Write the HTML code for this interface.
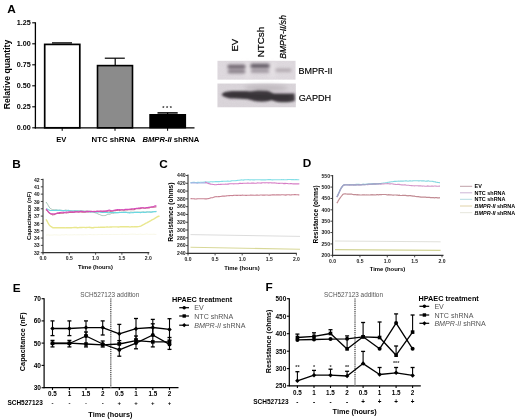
<!DOCTYPE html>
<html><head><meta charset="utf-8"><style>
html,body{margin:0;padding:0;background:#fff;}
svg{display:block;will-change:transform;}
text{font-family:"Liberation Sans", sans-serif;}
</style></head><body>
<svg width="520" height="420" viewBox="0 0 520 420">
<rect width="520" height="420" fill="#fff"/>
<text x="7.2" y="13.4" font-size="11.8" font-weight="bold" text-anchor="start" fill="#000">A</text>
<line x1="35.4" y1="22.3" x2="35.4" y2="128.5" stroke="#000" stroke-width="1.3"/>
<line x1="34.8" y1="127.8" x2="194.5" y2="127.8" stroke="#000" stroke-width="1.3"/>
<line x1="32.199999999999996" y1="127.8" x2="35.4" y2="127.8" stroke="#000" stroke-width="1.1"/>
<text x="30.7" y="130.4" font-size="7.2" font-weight="bold" text-anchor="end" fill="#000">0.00</text>
<line x1="32.199999999999996" y1="106.8" x2="35.4" y2="106.8" stroke="#000" stroke-width="1.1"/>
<text x="30.7" y="109.39999999999999" font-size="7.2" font-weight="bold" text-anchor="end" fill="#000">0.25</text>
<line x1="32.199999999999996" y1="85.8" x2="35.4" y2="85.8" stroke="#000" stroke-width="1.1"/>
<text x="30.7" y="88.39999999999999" font-size="7.2" font-weight="bold" text-anchor="end" fill="#000">0.50</text>
<line x1="32.199999999999996" y1="64.8" x2="35.4" y2="64.8" stroke="#000" stroke-width="1.1"/>
<text x="30.7" y="67.39999999999999" font-size="7.2" font-weight="bold" text-anchor="end" fill="#000">0.75</text>
<line x1="32.199999999999996" y1="43.8" x2="35.4" y2="43.8" stroke="#000" stroke-width="1.1"/>
<text x="30.7" y="46.4" font-size="7.2" font-weight="bold" text-anchor="end" fill="#000">1.00</text>
<line x1="32.199999999999996" y1="22.8" x2="35.4" y2="22.8" stroke="#000" stroke-width="1.1"/>
<text x="30.7" y="25.400000000000002" font-size="7.2" font-weight="bold" text-anchor="end" fill="#000">1.25</text>
<text x="10.3" y="74.5" font-size="8.7" font-weight="bold" text-anchor="middle" fill="#000" transform="rotate(-90 10.3 74.5)">Relative quantity</text>
<rect x="44.7" y="44.4" width="35.1" height="83.4" fill="#fff" stroke="#000" stroke-width="1.7"/>
<line x1="52" y1="42.9" x2="72" y2="42.9" stroke="#000" stroke-width="1.3"/>
<rect x="97.5" y="65.6" width="35.0" height="62.2" fill="#8b8b8b" stroke="#000" stroke-width="1.6"/>
<line x1="115.2" y1="65" x2="115.2" y2="58.2" stroke="#000" stroke-width="1.2"/>
<line x1="104.8" y1="58.2" x2="124.8" y2="58.2" stroke="#000" stroke-width="1.2"/>
<rect x="149.9" y="114.6" width="35.6" height="13.2" fill="#000" stroke="#000" stroke-width="1.2"/>
<line x1="157.5" y1="112.9" x2="177.7" y2="112.9" stroke="#000" stroke-width="1.5"/>
<line x1="167.6" y1="112.8" x2="167.6" y2="114.6" stroke="#000" stroke-width="1.2"/>
<text x="167.0" y="110.0" font-size="5.6" font-weight="bold" text-anchor="middle" fill="#222">* * *</text>
<line x1="62.2" y1="127.8" x2="62.2" y2="130.8" stroke="#000" stroke-width="1"/>
<line x1="115.0" y1="127.8" x2="115.0" y2="130.8" stroke="#000" stroke-width="1"/>
<line x1="167.6" y1="127.8" x2="167.6" y2="130.8" stroke="#000" stroke-width="1"/>
<text x="61.2" y="141.8" font-size="7.6" font-weight="bold" text-anchor="middle" fill="#000">EV</text>
<text x="113.6" y="141.7" font-size="7.8" font-weight="bold" text-anchor="middle" fill="#000">NTC shRNA</text>
<text x="170.9" y="141.5" font-size="7.65" font-weight="bold" text-anchor="middle"><tspan font-style="italic">BMPR-II</tspan> shRNA</text>
<defs>
<filter id="bl1" x="-30%" y="-100%" width="160%" height="300%"><feGaussianBlur stdDeviation="1.5"/></filter>
<filter id="bl2" x="-20%" y="-60%" width="140%" height="220%"><feGaussianBlur stdDeviation="1.25"/></filter>
<filter id="bl3" x="-10%" y="-10%" width="120%" height="120%"><feGaussianBlur stdDeviation="0.45"/></filter>
<filter id="bl4" x="-50%" y="-100%" width="200%" height="300%"><feGaussianBlur stdDeviation="2.2"/></filter>
<filter id="noise" x="0" y="0" width="100%" height="100%"><feTurbulence type="fractalNoise" baseFrequency="0.9" numOctaves="2" seed="4" result="n"/><feColorMatrix in="n" type="matrix" values="0 0 0 0 0.45  0 0 0 0 0.42  0 0 0 0 0.45  0 0 0 0.16 0"/></filter>
<filter id="soft" x="-5%" y="-5%" width="110%" height="110%"><feGaussianBlur stdDeviation="0.35"/></filter>
</defs>
<rect x="217.4" y="60.8" width="78.2" height="18.8" fill="#e1dce1" filter="url(#bl3)"/>
<rect x="217.4" y="83.5" width="78.4" height="23.8" fill="#dcd7dc" filter="url(#bl3)"/>
<rect x="218" y="61.3" width="77" height="18" filter="url(#noise)"/>
<rect x="218" y="84" width="77.2" height="22.8" filter="url(#noise)"/>
<g filter="url(#bl4)" opacity="0.6"><rect x="245" y="62" width="5" height="16" fill="#ece8eb"/><rect x="270" y="62" width="5" height="16" fill="#ece8eb"/></g>
<g filter="url(#bl1)">
<rect x="227.5" y="64.8" width="18" height="3.6" rx="1.5" fill="#6a606b"/>
<rect x="227.8" y="69.8" width="17.5" height="3.4" rx="1.5" fill="#857b85"/>
<rect x="250.5" y="63.7" width="19" height="4.4" rx="1.5" fill="#645b66"/>
<rect x="251" y="69.6" width="18" height="3.0" rx="1.2" fill="#948b94"/>
<rect x="275.5" y="68.4" width="16" height="3.6" rx="1.5" fill="#b2aab0"/>
</g>
<ellipse cx="266" cy="88" rx="22" ry="3.2" fill="#bfb9be" filter="url(#bl4)"/>
<path d="M221.5,94.6 C223,92.4 226,91.4 232,91.0 L247,91.0 C251,91.6 253,90.6 258,90.4 L267,90.8 C270,91.2 271,92.6 274,93.4 L294.6,93.6 L294.8,100.8 C290,102.4 284,102.6 278,102.0 C275,101.6 273,100.4 271.5,100.0 C269,101.4 264,102.0 258,101.6 C254,101.2 251,100.0 248,99.2 C243,98.6 236,98.6 230,98.4 C226,98.0 223,96.8 221.5,94.6 Z" fill="#403a41" filter="url(#bl2)"/>
<path d="M224,94.6 C230,93.0 245,93.0 250,94.0 L290,95.5 L290,99 C282,100 262,99.6 250,97.6 C240,96.8 230,96.4 224,94.6 Z" fill="#1f1b1e" filter="url(#bl2)" opacity="0.25"/>
<text x="298.5" y="74.0" font-size="9" text-anchor="start" fill="#000" stroke="#000" stroke-width="0.15">BMPR-II</text>
<text x="298.8" y="101.1" font-size="9.1" text-anchor="start" fill="#000" stroke="#000" stroke-width="0.15">GAPDH</text>
<text x="238.5" y="51.6" font-size="9.6" text-anchor="start" fill="#000" transform="rotate(-90 238.5 51.6)" stroke="#000" stroke-width="0.2">EV</text>
<text x="264.3" y="57.3" font-size="9.8" text-anchor="start" fill="#000" transform="rotate(-90 264.3 57.3)" stroke="#000" stroke-width="0.2">NTCsh</text>
<text x="286.0" y="58.8" font-size="8.55" font-style="italic" text-anchor="start" fill="#000" transform="rotate(-90 286.0 58.8)" stroke="#000" stroke-width="0.2">BMPR-II/sh</text>
<text x="12.2" y="168.4" font-size="11.8" font-weight="bold" text-anchor="start" fill="#000">B</text>
<line x1="43.0" y1="178.8" x2="43.0" y2="253.2" stroke="#333" stroke-width="1.1"/>
<line x1="42.5" y1="252.7" x2="149.3" y2="252.7" stroke="#333" stroke-width="1.3"/>
<line x1="40.8" y1="252.7" x2="43.0" y2="252.7" stroke="#333" stroke-width="0.9"/>
<text x="39.6" y="254.79999999999998" font-size="5.1" font-weight="bold" text-anchor="end" fill="#222">32</text>
<line x1="40.8" y1="245.38" x2="43.0" y2="245.38" stroke="#333" stroke-width="0.9"/>
<text x="39.6" y="247.48" font-size="5.1" font-weight="bold" text-anchor="end" fill="#222">33</text>
<line x1="40.8" y1="238.06" x2="43.0" y2="238.06" stroke="#333" stroke-width="0.9"/>
<text x="39.6" y="240.16" font-size="5.1" font-weight="bold" text-anchor="end" fill="#222">34</text>
<line x1="40.8" y1="230.73999999999998" x2="43.0" y2="230.73999999999998" stroke="#333" stroke-width="0.9"/>
<text x="39.6" y="232.83999999999997" font-size="5.1" font-weight="bold" text-anchor="end" fill="#222">35</text>
<line x1="40.8" y1="223.42" x2="43.0" y2="223.42" stroke="#333" stroke-width="0.9"/>
<text x="39.6" y="225.51999999999998" font-size="5.1" font-weight="bold" text-anchor="end" fill="#222">36</text>
<line x1="40.8" y1="216.1" x2="43.0" y2="216.1" stroke="#333" stroke-width="0.9"/>
<text x="39.6" y="218.2" font-size="5.1" font-weight="bold" text-anchor="end" fill="#222">37</text>
<line x1="40.8" y1="208.77999999999997" x2="43.0" y2="208.77999999999997" stroke="#333" stroke-width="0.9"/>
<text x="39.6" y="210.87999999999997" font-size="5.1" font-weight="bold" text-anchor="end" fill="#222">38</text>
<line x1="40.8" y1="201.45999999999998" x2="43.0" y2="201.45999999999998" stroke="#333" stroke-width="0.9"/>
<text x="39.6" y="203.55999999999997" font-size="5.1" font-weight="bold" text-anchor="end" fill="#222">39</text>
<line x1="40.8" y1="194.14" x2="43.0" y2="194.14" stroke="#333" stroke-width="0.9"/>
<text x="39.6" y="196.23999999999998" font-size="5.1" font-weight="bold" text-anchor="end" fill="#222">40</text>
<line x1="40.8" y1="186.82" x2="43.0" y2="186.82" stroke="#333" stroke-width="0.9"/>
<text x="39.6" y="188.92" font-size="5.1" font-weight="bold" text-anchor="end" fill="#222">41</text>
<line x1="40.8" y1="179.5" x2="43.0" y2="179.5" stroke="#333" stroke-width="0.9"/>
<text x="39.6" y="181.6" font-size="5.1" font-weight="bold" text-anchor="end" fill="#222">42</text>
<line x1="43.0" y1="252.7" x2="43.0" y2="254.7" stroke="#333" stroke-width="0.9"/>
<text x="43.0" y="260.3" font-size="5.0" font-weight="bold" text-anchor="middle" fill="#222">0.0</text>
<line x1="69.3" y1="252.7" x2="69.3" y2="254.7" stroke="#333" stroke-width="0.9"/>
<text x="69.3" y="260.3" font-size="5.0" font-weight="bold" text-anchor="middle" fill="#222">0.5</text>
<line x1="95.6" y1="252.7" x2="95.6" y2="254.7" stroke="#333" stroke-width="0.9"/>
<text x="95.6" y="260.3" font-size="5.0" font-weight="bold" text-anchor="middle" fill="#222">1.0</text>
<line x1="121.9" y1="252.7" x2="121.9" y2="254.7" stroke="#333" stroke-width="0.9"/>
<text x="121.9" y="260.3" font-size="5.0" font-weight="bold" text-anchor="middle" fill="#222">1.5</text>
<line x1="148.2" y1="252.7" x2="148.2" y2="254.7" stroke="#333" stroke-width="0.9"/>
<text x="148.2" y="260.3" font-size="5.0" font-weight="bold" text-anchor="middle" fill="#222">2.0</text>
<text x="95.5" y="268.5" font-size="5.8" font-weight="bold" text-anchor="middle" fill="#000">Time (hours)</text>
<text x="31.3" y="215.8" font-size="6.0" font-weight="bold" text-anchor="middle" fill="#000" transform="rotate(-90 31.3 215.8)">Capacitance (nF)</text>
<g filter="url(#soft)">
<polyline points="46.0,202.0 46.8,203.1 47.6,204.3 48.4,205.8 49.2,207.1 50.0,208.2 50.8,208.8 51.6,209.2 52.4,209.6 53.2,209.7 54.0,209.8 54.8,209.8 55.6,209.8 56.4,209.8 57.2,210.0 58.0,210.1 58.8,210.2 59.6,210.1 60.4,210.2 61.2,210.2 62.0,210.3 62.8,210.5 63.6,210.6 64.4,210.4 65.2,210.1 66.0,210.0 66.8,210.3 67.6,210.4 68.4,210.5 69.2,210.7 70.0,210.6 70.8,210.6 71.6,210.6 72.4,210.8 73.2,210.9 74.0,210.7 74.8,210.5 75.6,210.5 76.4,210.6 77.2,210.6 78.0,210.6 78.8,210.6 79.6,210.6 80.4,210.7 81.2,210.7 82.0,210.8 82.8,210.8 83.6,210.9 84.4,211.0 85.2,211.0 86.0,210.9 86.8,210.9 87.6,210.9 88.4,211.1 89.2,211.0 90.0,211.2 90.8,211.3 91.6,211.5 92.4,211.7 93.2,212.0 94.0,212.4 94.8,212.7 95.6,212.9 96.4,213.1 97.2,213.5 98.0,213.9 98.8,214.3 99.6,214.5 100.4,214.9 101.2,215.2 102.0,215.6 102.8,215.6 103.6,215.6 104.4,215.6 105.2,215.5 106.0,215.2 106.8,214.8 107.6,214.5 108.4,214.3 109.2,214.3 110.0,214.1 110.8,213.8 111.6,213.4 112.4,213.3 113.2,213.4 114.0,213.2 114.8,213.0 115.6,212.8 116.4,212.7 117.2,212.7 118.0,212.5 118.8,212.4 119.6,212.3 120.4,212.3 121.2,212.1 122.0,212.2 122.8,212.1 123.6,212.1 124.4,212.2 125.2,212.1 126.0,212.3 126.8,212.2 127.6,212.3 128.4,212.3 129.2,212.4 130.0,212.2 130.8,212.0 131.6,212.1 132.4,212.2 133.2,212.2 134.0,212.1 134.8,212.1 135.6,212.2 136.4,212.2 137.2,212.2 138.0,212.1 138.8,212.1 139.6,212.0 140.4,212.1 141.2,212.2 142.0,212.1 142.8,211.9 143.6,211.8 144.4,212.1 145.2,212.2 146.0,212.1 146.8,211.9 147.6,211.9 148.4,212.0 149.2,211.9 150.0,212.0 150.8,211.9 151.6,211.9 152.4,211.8 153.2,211.8 154.0,211.7 154.8,211.5 155.6,211.6 156.4,211.6" fill="none" stroke="#a4c2b4" stroke-width="1.0" stroke-linejoin="round"/>
<polyline points="46.0,208.8 46.8,209.0 47.6,209.1 48.4,209.7 49.2,210.1 50.0,210.5 50.8,210.5 51.6,210.5 52.4,210.5 53.2,210.5 54.0,210.5 54.8,210.5 55.6,210.3 56.4,210.4 57.2,210.4 58.0,210.5 58.8,210.4 59.6,210.4 60.4,210.3 61.2,210.5 62.0,210.5 62.8,210.6 63.6,210.6 64.4,210.6 65.2,210.6 66.0,210.8 66.8,210.8 67.6,210.6 68.4,210.3 69.2,210.6 70.0,210.8 70.8,211.0 71.6,211.0 72.4,211.1 73.2,211.0 74.0,211.0 74.8,211.1 75.6,211.0 76.4,211.0 77.2,211.0 78.0,211.3 78.8,211.3 79.6,211.2 80.4,211.0 81.2,211.2 82.0,211.3 82.8,211.5 83.6,211.3 84.4,211.5 85.2,211.5 86.0,211.6 86.8,211.5 87.6,211.6 88.4,211.8 89.2,211.9 90.0,212.0 90.8,212.1 91.6,212.0 92.4,211.8 93.2,211.9 94.0,211.9 94.8,212.0 95.6,212.0 96.4,212.1 97.2,212.1 98.0,212.0 98.8,211.8 99.6,212.0 100.4,212.2 101.2,212.5 102.0,212.5 102.8,212.4 103.6,212.4 104.4,212.4 105.2,212.4 106.0,212.3 106.8,212.5 107.6,212.6 108.4,212.7 109.2,212.6 110.0,212.5 110.8,212.5 111.6,212.5 112.4,212.5 113.2,212.4 114.0,212.4 114.8,212.5 115.6,212.6 116.4,212.6 117.2,212.7 118.0,212.5 118.8,212.6 119.6,212.4 120.4,212.5 121.2,212.5 122.0,212.5 122.8,212.5 123.6,212.4 124.4,212.4 125.2,212.3 126.0,212.4 126.8,212.5 127.6,212.7 128.4,212.8 129.2,212.9 130.0,212.9 130.8,212.8 131.6,212.7 132.4,212.6 133.2,212.7 134.0,212.4 134.8,212.5 135.6,212.3 136.4,212.4 137.2,212.4 138.0,212.4 138.8,212.5 139.6,212.5 140.4,212.6 141.2,212.4 142.0,212.3 142.8,212.3 143.6,212.4 144.4,212.4 145.2,212.4 146.0,212.2 146.8,212.1 147.6,212.0 148.4,212.0 149.2,212.0 150.0,212.1 150.8,212.2 151.6,212.1 152.4,211.9 153.2,211.7 154.0,211.8 154.8,211.6 155.6,211.6 156.4,211.4" fill="none" stroke="#6ad8e2" stroke-width="1.1" stroke-linejoin="round"/>
<polyline points="46.0,209.7 46.8,210.2 47.6,210.8 48.4,212.1 49.2,213.0 50.0,213.5 50.8,214.0 51.6,214.2 52.4,214.9 53.2,214.8 54.0,214.7 54.8,214.2 55.6,213.9 56.4,213.6 57.2,213.4 58.0,213.4 58.8,213.3 59.6,213.4 60.4,213.2 61.2,213.1 62.0,213.1 62.8,213.2 63.6,213.1 64.4,212.8 65.2,212.8 66.0,213.0 66.8,212.9 67.6,212.8 68.4,212.7 69.2,212.5 70.0,212.5 70.8,212.4 71.6,212.5 72.4,212.5 73.2,212.5 74.0,212.0 74.8,212.1 75.6,211.9 76.4,212.0 77.2,211.9 78.0,212.0 78.8,212.2 79.6,212.0 80.4,211.9 81.2,211.9 82.0,212.2 82.8,212.2 83.6,212.2 84.4,212.2 85.2,212.1 86.0,211.9 86.8,211.8 87.6,211.9 88.4,212.0 89.2,211.8 90.0,211.7 90.8,211.4 91.6,211.6 92.4,211.6 93.2,211.7 94.0,211.6 94.8,211.4 95.6,211.6 96.4,211.4 97.2,211.4 98.0,211.3 98.8,211.7 99.6,211.5 100.4,211.3 101.2,211.2 102.0,211.4 102.8,211.6 103.6,211.4 104.4,211.5 105.2,211.1 106.0,211.4 106.8,211.3 107.6,211.3 108.4,210.9 109.2,211.0 110.0,211.1 110.8,211.4 111.6,211.2 112.4,211.1 113.2,210.9 114.0,210.6 114.8,210.4 115.6,210.6 116.4,210.5 117.2,210.4 118.0,210.2 118.8,210.3 119.6,210.4 120.4,210.2 121.2,210.0 122.0,209.8 122.8,210.1 123.6,210.3 124.4,210.3 125.2,210.0 126.0,209.9 126.8,209.8 127.6,209.9 128.4,209.7 129.2,209.7 130.0,209.5 130.8,209.6 131.6,209.5 132.4,209.7 133.2,209.7 134.0,209.8 134.8,209.2 135.6,208.9 136.4,208.5 137.2,208.8 138.0,208.4 138.8,208.6 139.6,208.5 140.4,208.6 141.2,208.2 142.0,207.9 142.8,208.0 143.6,208.1 144.4,208.3 145.2,208.2 146.0,208.1 146.8,207.8 147.6,208.0 148.4,207.9 149.2,207.9 150.0,207.5 150.8,207.3 151.6,207.0 152.4,207.3 153.2,207.3 154.0,207.3 154.8,207.0 155.6,206.9 156.4,207.0" fill="none" stroke="#c8688a" stroke-width="1.1" stroke-linejoin="round"/>
<polyline points="46.0,208.8 46.8,209.8 47.6,210.9 48.4,211.8 49.2,212.6 50.0,213.1 50.8,213.8 51.6,213.8 52.4,213.9 53.2,213.8 54.0,214.0 54.8,213.8 55.6,213.7 56.4,213.2 57.2,213.3 58.0,212.8 58.8,213.0 59.6,212.6 60.4,212.6 61.2,212.3 62.0,212.2 62.8,212.3 63.6,212.4 64.4,212.6 65.2,212.3 66.0,212.2 66.8,211.9 67.6,212.2 68.4,211.9 69.2,211.9 70.0,211.8 70.8,211.8 71.6,211.9 72.4,211.9 73.2,212.1 74.0,212.1 74.8,211.9 75.6,211.7 76.4,211.5 77.2,211.7 78.0,211.9 78.8,211.8 79.6,211.6 80.4,211.4 81.2,211.4 82.0,211.4 82.8,211.5 83.6,211.8 84.4,211.7 85.2,211.7 86.0,211.5 86.8,211.4 87.6,211.4 88.4,211.3 89.2,211.5 90.0,211.3 90.8,211.5 91.6,211.3 92.4,211.5 93.2,211.4 94.0,211.5 94.8,211.6 95.6,211.5 96.4,211.4 97.2,211.3 98.0,211.1 98.8,211.2 99.6,211.1 100.4,211.0 101.2,211.1 102.0,211.2 102.8,211.1 103.6,211.1 104.4,211.0 105.2,211.3 106.0,210.9 106.8,210.9 107.6,210.5 108.4,210.3 109.2,210.1 110.0,210.3 110.8,210.5 111.6,210.8 112.4,210.7 113.2,210.6 114.0,210.2 114.8,210.2 115.6,209.9 116.4,209.7 117.2,209.6 118.0,209.6 118.8,209.7 119.6,209.6 120.4,209.8 121.2,209.8 122.0,209.8 122.8,209.7 123.6,209.7 124.4,209.6 125.2,209.4 126.0,209.3 126.8,209.4 127.6,209.4 128.4,209.4 129.2,209.3 130.0,209.1 130.8,209.0 131.6,208.7 132.4,208.8 133.2,208.7 134.0,208.8 134.8,208.6 135.6,208.5 136.4,208.4 137.2,208.4 138.0,208.3 138.8,208.1 139.6,208.0 140.4,207.7 141.2,207.9 142.0,207.7 142.8,207.8 143.6,207.8 144.4,208.0 145.2,207.9 146.0,207.7 146.8,207.5 147.6,207.6 148.4,207.4 149.2,207.2 150.0,207.0 150.8,207.0 151.6,207.0 152.4,206.9 153.2,206.6 154.0,206.3 154.8,205.9 155.6,205.9 156.4,205.9" fill="none" stroke="#d64cba" stroke-width="1.1" stroke-linejoin="round"/>
<polyline points="46.0,219.4 46.8,220.6 47.6,222.0 48.4,223.7 49.2,224.9 50.0,225.8 50.8,226.4 51.6,226.9 52.4,227.5 53.2,227.8 54.0,227.7 54.8,227.6 55.6,227.7 56.4,227.8 57.2,227.8 58.0,227.7 58.8,227.7 59.6,227.7 60.4,227.7 61.2,227.8 62.0,227.8 62.8,227.8 63.6,227.8 64.4,227.8 65.2,227.9 66.0,227.8 66.8,227.7 67.6,227.6 68.4,227.7 69.2,227.6 70.0,227.7 70.8,227.7 71.6,227.7 72.4,227.6 73.2,227.6 74.0,227.5 74.8,227.5 75.6,227.5 76.4,227.5 77.2,227.7 78.0,227.7 78.8,227.6 79.6,227.5 80.4,227.4 81.2,227.5 82.0,227.5 82.8,227.4 83.6,227.4 84.4,227.4 85.2,227.6 86.0,227.5 86.8,227.5 87.6,227.4 88.4,227.4 89.2,227.3 90.0,227.5 90.8,227.5 91.6,227.7 92.4,227.7 93.2,227.7 94.0,227.5 94.8,227.4 95.6,227.4 96.4,227.4 97.2,227.4 98.0,227.4 98.8,227.3 99.6,227.4 100.4,227.3 101.2,227.3 102.0,227.2 102.8,227.3 103.6,227.2 104.4,227.2 105.2,227.1 106.0,227.1 106.8,226.9 107.6,227.0 108.4,227.1 109.2,227.1 110.0,226.9 110.8,227.0 111.6,227.0 112.4,226.9 113.2,226.9 114.0,226.9 114.8,226.9 115.6,226.9 116.4,226.9 117.2,226.9 118.0,227.0 118.8,227.0 119.6,226.9 120.4,226.7 121.2,226.7 122.0,226.7 122.8,226.8 123.6,226.8 124.4,226.8 125.2,226.7 126.0,226.7 126.8,226.7 127.6,226.8 128.4,226.8 129.2,226.9 130.0,227.0 130.8,226.9 131.6,226.8 132.4,226.8 133.2,226.9 134.0,226.8 134.8,226.8 135.6,226.8 136.4,226.7 137.2,226.7 138.0,226.6 138.8,226.6 139.6,226.4 140.4,226.2 141.2,225.9 142.0,225.4 142.8,225.0 143.6,224.5 144.4,224.1 145.2,223.6 146.0,223.2 146.8,222.9 147.6,222.4 148.4,222.0 149.2,221.5 150.0,221.1 150.8,220.7 151.6,220.2 152.4,219.7 153.2,219.3 154.0,218.9 154.8,218.4 155.6,217.9 156.4,217.4 157.2,216.9 158.0,216.5 158.8,216.3 159.6,216.1" fill="none" stroke="#e9e78e" stroke-width="1.4" stroke-linejoin="round"/>
<polyline points="46.0,235.2 46.8,235.0 47.6,234.9 48.4,234.9 49.2,235.1 50.0,235.1 50.8,235.1 51.6,235.1 52.4,235.1 53.2,235.0 54.0,234.9 54.8,234.8 55.6,234.9 56.4,234.9 57.2,235.0 58.0,235.0 58.8,235.1 59.6,235.1 60.4,235.1 61.2,234.9 62.0,234.9 62.8,234.8 63.6,234.9 64.4,234.8 65.2,234.7 66.0,234.7 66.8,234.7 67.6,234.9 68.4,234.9 69.2,234.9 70.0,234.9 70.8,234.9 71.6,234.9 72.4,234.9 73.2,234.8 74.0,234.8 74.8,234.7 75.6,234.8 76.4,234.8 77.2,234.8 78.0,234.8 78.8,234.8 79.6,234.8 80.4,234.7 81.2,234.8 82.0,234.8 82.8,234.8 83.6,234.8 84.4,234.7 85.2,234.7 86.0,234.7 86.8,234.8 87.6,234.7 88.4,234.6 89.2,234.5 90.0,234.5 90.8,234.6 91.6,234.7 92.4,234.7 93.2,234.7 94.0,234.7 94.8,234.7 95.6,234.7 96.4,234.7 97.2,234.7 98.0,234.5 98.8,234.6 99.6,234.6 100.4,234.6 101.2,234.5 102.0,234.5 102.8,234.5 103.6,234.6 104.4,234.5 105.2,234.6 106.0,234.5 106.8,234.5 107.6,234.5 108.4,234.6 109.2,234.5 110.0,234.5 110.8,234.5 111.6,234.5 112.4,234.5 113.2,234.4 114.0,234.4 114.8,234.5 115.6,234.5 116.4,234.5 117.2,234.5 118.0,234.6 118.8,234.5 119.6,234.5 120.4,234.4 121.2,234.4 122.0,234.3 122.8,234.3 123.6,234.4 124.4,234.4 125.2,234.5 126.0,234.5 126.8,234.4 127.6,234.5 128.4,234.4 129.2,234.3 130.0,234.2 130.8,234.2 131.6,234.2 132.4,234.1 133.2,234.2 134.0,234.2 134.8,234.2 135.6,234.3 136.4,234.5 137.2,234.4 138.0,234.4 138.8,234.3 139.6,234.3 140.4,234.2 141.2,234.3 142.0,234.3 142.8,234.4 143.6,234.4 144.4,234.4 145.2,234.3 146.0,234.2 146.8,234.1 147.6,234.2 148.4,234.3 149.2,234.3 150.0,234.3 150.8,234.3 151.6,234.3 152.4,234.3 153.2,234.2 154.0,234.3 154.8,234.3 155.6,234.4 156.4,234.3" fill="none" stroke="#f7f6e4" stroke-width="1.0" stroke-linejoin="round"/>
</g>
<text x="159.2" y="168.3" font-size="11.8" font-weight="bold" text-anchor="start" fill="#000">C</text>
<line x1="188.0" y1="174.6" x2="188.0" y2="253.9" stroke="#333" stroke-width="1.1"/>
<line x1="187.5" y1="253.4" x2="296.8" y2="253.4" stroke="#333" stroke-width="1.3"/>
<line x1="185.8" y1="253.4" x2="188.0" y2="253.4" stroke="#333" stroke-width="0.9"/>
<text x="185.6" y="255.20000000000002" font-size="5.1" font-weight="bold" text-anchor="end" fill="#222">240</text>
<line x1="185.8" y1="245.61" x2="188.0" y2="245.61" stroke="#333" stroke-width="0.9"/>
<text x="185.6" y="247.41000000000003" font-size="5.1" font-weight="bold" text-anchor="end" fill="#222">260</text>
<line x1="185.8" y1="237.82" x2="188.0" y2="237.82" stroke="#333" stroke-width="0.9"/>
<text x="185.6" y="239.62" font-size="5.1" font-weight="bold" text-anchor="end" fill="#222">280</text>
<line x1="185.8" y1="230.03" x2="188.0" y2="230.03" stroke="#333" stroke-width="0.9"/>
<text x="185.6" y="231.83" font-size="5.1" font-weight="bold" text-anchor="end" fill="#222">300</text>
<line x1="185.8" y1="222.24" x2="188.0" y2="222.24" stroke="#333" stroke-width="0.9"/>
<text x="185.6" y="224.04000000000002" font-size="5.1" font-weight="bold" text-anchor="end" fill="#222">320</text>
<line x1="185.8" y1="214.45" x2="188.0" y2="214.45" stroke="#333" stroke-width="0.9"/>
<text x="185.6" y="216.25" font-size="5.1" font-weight="bold" text-anchor="end" fill="#222">340</text>
<line x1="185.8" y1="206.66" x2="188.0" y2="206.66" stroke="#333" stroke-width="0.9"/>
<text x="185.6" y="208.46" font-size="5.1" font-weight="bold" text-anchor="end" fill="#222">360</text>
<line x1="185.8" y1="198.87" x2="188.0" y2="198.87" stroke="#333" stroke-width="0.9"/>
<text x="185.6" y="200.67000000000002" font-size="5.1" font-weight="bold" text-anchor="end" fill="#222">380</text>
<line x1="185.8" y1="191.08" x2="188.0" y2="191.08" stroke="#333" stroke-width="0.9"/>
<text x="185.6" y="192.88000000000002" font-size="5.1" font-weight="bold" text-anchor="end" fill="#222">400</text>
<line x1="185.8" y1="183.29000000000002" x2="188.0" y2="183.29000000000002" stroke="#333" stroke-width="0.9"/>
<text x="185.6" y="185.09000000000003" font-size="5.1" font-weight="bold" text-anchor="end" fill="#222">420</text>
<line x1="185.8" y1="175.5" x2="188.0" y2="175.5" stroke="#333" stroke-width="0.9"/>
<text x="185.6" y="177.3" font-size="5.1" font-weight="bold" text-anchor="end" fill="#222">440</text>
<line x1="188.0" y1="253.4" x2="188.0" y2="255.4" stroke="#333" stroke-width="0.9"/>
<text x="188.0" y="260.6" font-size="5.0" font-weight="bold" text-anchor="middle" fill="#222">0.0</text>
<line x1="215.1" y1="253.4" x2="215.1" y2="255.4" stroke="#333" stroke-width="0.9"/>
<text x="215.1" y="260.6" font-size="5.0" font-weight="bold" text-anchor="middle" fill="#222">0.5</text>
<line x1="242.2" y1="253.4" x2="242.2" y2="255.4" stroke="#333" stroke-width="0.9"/>
<text x="242.2" y="260.6" font-size="5.0" font-weight="bold" text-anchor="middle" fill="#222">1.0</text>
<line x1="269.3" y1="253.4" x2="269.3" y2="255.4" stroke="#333" stroke-width="0.9"/>
<text x="269.3" y="260.6" font-size="5.0" font-weight="bold" text-anchor="middle" fill="#222">1.5</text>
<line x1="296.4" y1="253.4" x2="296.4" y2="255.4" stroke="#333" stroke-width="0.9"/>
<text x="296.4" y="260.6" font-size="5.0" font-weight="bold" text-anchor="middle" fill="#222">2.0</text>
<text x="242" y="270.2" font-size="5.9" font-weight="bold" text-anchor="middle" fill="#000">Time (hours)</text>
<text x="172.9" y="212.1" font-size="6.67" font-weight="bold" text-anchor="middle" fill="#000" transform="rotate(-90 172.9 212.1)">Resistance (ohms)</text>
<g filter="url(#soft)">
<polyline points="190.5,182.6 191.3,182.6 192.1,182.5 192.9,182.4 193.7,182.4 194.5,182.4 195.3,182.5 196.1,182.5 196.9,182.5 197.7,182.4 198.5,182.4 199.3,182.5 200.1,182.3 200.9,182.3 201.7,182.3 202.5,182.3 203.3,182.2 204.1,182.0 204.9,182.0 205.7,181.9 206.5,182.0 207.3,182.0 208.1,182.1 208.9,182.0 209.7,182.1 210.5,181.8 211.3,181.8 212.1,181.7 212.9,181.9 213.7,181.8 214.5,181.7 215.3,181.6 216.1,181.6 216.9,181.6 217.7,181.6 218.5,181.6 219.3,181.6 220.1,181.5 220.9,181.5 221.7,181.4 222.5,181.4 223.3,181.3 224.1,181.2 224.9,181.3 225.7,181.2 226.5,181.2 227.3,181.1 228.1,181.1 228.9,181.2 229.7,181.2 230.5,181.1 231.3,180.9 232.1,180.8 232.9,180.8 233.7,180.8 234.5,180.7 235.3,180.7 236.1,180.6 236.9,180.5 237.7,180.4 238.5,180.3 239.3,180.2 240.1,180.1 240.9,180.0 241.7,179.9 242.5,180.0 243.3,180.1 244.1,179.9 244.9,179.8 245.7,179.7 246.5,179.7 247.3,179.7 248.1,179.6 248.9,179.8 249.7,179.9 250.5,179.9 251.3,179.8 252.1,179.7 252.9,179.9 253.7,179.9 254.5,179.9 255.3,179.8 256.1,179.8 256.9,179.8 257.7,179.7 258.5,179.7 259.3,179.7 260.1,179.8 260.9,179.9 261.7,179.9 262.5,179.9 263.3,179.8 264.1,179.9 264.9,179.8 265.7,179.9 266.5,179.8 267.3,179.8 268.1,179.6 268.9,179.6 269.7,179.5 270.5,179.6 271.3,179.7 272.1,179.9 272.9,179.9 273.7,179.8 274.5,179.7 275.3,179.8 276.1,179.8 276.9,179.8 277.7,179.8 278.5,179.8 279.3,179.8 280.1,179.7 280.9,179.7 281.7,179.6 282.5,179.7 283.3,179.6 284.1,179.7 284.9,179.7 285.7,179.8 286.5,179.7 287.3,179.6 288.1,179.5 288.9,179.5 289.7,179.5 290.5,179.5 291.3,179.6 292.1,179.5 292.9,179.6 293.7,179.5 294.5,179.7 295.3,179.6 296.1,179.6 296.9,179.6 297.7,179.7 298.5,179.8 299.3,179.7" fill="none" stroke="#84dee6" stroke-width="1.1" stroke-linejoin="round"/>
<polyline points="190.5,182.8 191.3,182.8 192.1,182.8 192.9,182.8 193.7,182.8 194.5,182.8 195.3,182.9 196.1,183.0 196.9,183.1 197.7,183.1 198.5,183.0 199.3,183.0 200.1,183.0 200.9,183.0 201.7,182.9 202.5,182.9 203.3,182.9 204.1,182.9 204.9,182.8 205.7,182.8 206.5,182.8" fill="none" stroke="#a8b0e2" stroke-width="1.2" stroke-linejoin="round"/>
<polyline points="205.0,182.2 205.8,182.3 206.6,182.7 207.4,183.0 208.2,183.4 209.0,183.6 209.8,183.9 210.6,184.1 211.4,184.3 212.2,184.3 213.0,184.5 213.8,184.5 214.6,184.8 215.4,184.7 216.2,184.7 217.0,184.5 217.8,184.5 218.6,184.4 219.4,184.5 220.2,184.4 221.0,184.4 221.8,184.2 222.6,184.3 223.4,184.3 224.2,184.3 225.0,184.2 225.8,184.1 226.6,184.2 227.4,184.0 228.2,184.1 229.0,183.9 229.8,183.8 230.6,183.7 231.4,183.7 232.2,183.8 233.0,183.8 233.8,183.9 234.6,183.8 235.4,183.7 236.2,183.7 237.0,183.7 237.8,183.7 238.6,183.6 239.4,183.4 240.2,183.4 241.0,183.4 241.8,183.5 242.6,183.4 243.4,183.3 244.2,183.2 245.0,183.3 245.8,183.3 246.6,183.2 247.4,183.1 248.2,183.1 249.0,183.2 249.8,183.2 250.6,183.2 251.4,183.1 252.2,183.1 253.0,183.1 253.8,183.1 254.6,183.2 255.4,183.2 256.2,183.2 257.0,183.0 257.8,182.9 258.6,183.0 259.4,183.0 260.2,183.0 261.0,183.1 261.8,182.9 262.6,182.8 263.4,182.7 264.2,182.8 265.0,182.9 265.8,182.8 266.6,182.8 267.4,182.8 268.2,182.9 269.0,182.9 269.8,182.8 270.6,182.8 271.4,182.9 272.2,183.0 273.0,182.9 273.8,183.0 274.6,182.9 275.4,183.0 276.2,183.1 277.0,183.2 277.8,183.3 278.6,183.4 279.4,183.4 280.2,183.3 281.0,183.2 281.8,183.3 282.6,183.3 283.4,183.6 284.2,183.4 285.0,183.6 285.8,183.4 286.6,183.5 287.4,183.5 288.2,183.7 289.0,183.7 289.8,183.8 290.6,183.6 291.4,183.6 292.2,183.7 293.0,183.9 293.8,183.9 294.6,183.9 295.4,183.9 296.2,183.7 297.0,183.9 297.8,183.7 298.6,183.9 299.4,183.8" fill="none" stroke="#d67fc6" stroke-width="1.1" stroke-linejoin="round"/>
<polyline points="190.5,198.6 191.3,198.6 192.1,198.7 192.9,198.8 193.7,198.8 194.5,198.9 195.3,199.0 196.1,199.0 196.9,198.9 197.7,198.8 198.5,198.8 199.3,198.8 200.1,198.8 200.9,198.8 201.7,198.8 202.5,198.8 203.3,198.8 204.1,198.8 204.9,198.9 205.7,198.9 206.5,198.9 207.3,198.7 208.1,198.6 208.9,198.5 209.7,198.2 210.5,197.9 211.3,197.7 212.1,197.7 212.9,197.6 213.7,197.2 214.5,196.9 215.3,196.7 216.1,196.6 216.9,196.7 217.7,196.7 218.5,196.6 219.3,196.6 220.1,196.5 220.9,196.4 221.7,196.2 222.5,196.1 223.3,196.1 224.1,196.1 224.9,196.1 225.7,196.0 226.5,195.9 227.3,195.8 228.1,195.7 228.9,195.6 229.7,195.6 230.5,195.5 231.3,195.5 232.1,195.6 232.9,195.5 233.7,195.4 234.5,195.3 235.3,195.3 236.1,195.4 236.9,195.4 237.7,195.4 238.5,195.3 239.3,195.3 240.1,195.4 240.9,195.4 241.7,195.2 242.5,195.1 243.3,195.2 244.1,195.3 244.9,195.3 245.7,195.4 246.5,195.4 247.3,195.3 248.1,195.3 248.9,195.3 249.7,195.2 250.5,195.1 251.3,195.1 252.1,195.2 252.9,195.1 253.7,195.2 254.5,195.2 255.3,195.2 256.1,195.1 256.9,195.0 257.7,195.1 258.5,195.2 259.3,195.2 260.1,195.0 260.9,195.0 261.7,195.0 262.5,195.1 263.3,195.1 264.1,195.1 264.9,195.1 265.7,195.0 266.5,195.0 267.3,195.0 268.1,195.1 268.9,195.2 269.7,195.1 270.5,195.1 271.3,195.0 272.1,194.9 272.9,194.8 273.7,194.9 274.5,194.9 275.3,195.0 276.1,194.9 276.9,194.9 277.7,194.7 278.5,194.9 279.3,194.9 280.1,195.0 280.9,194.9 281.7,194.8 282.5,194.8 283.3,194.8 284.1,195.0 284.9,194.9 285.7,195.1 286.5,194.9 287.3,194.8 288.1,194.8 288.9,194.8 289.7,194.9 290.5,195.0 291.3,194.9 292.1,194.8 292.9,194.7 293.7,194.7 294.5,194.6 295.3,194.6 296.1,194.7 296.9,194.8 297.7,194.8 298.5,194.9 299.3,194.9" fill="none" stroke="#c98494" stroke-width="1.1" stroke-linejoin="round"/>
<polyline points="190.5,234.6 300.0,236.4" fill="none" stroke="#d8d8d8" stroke-width="0.9" stroke-linejoin="round"/>
<polyline points="190.5,247.3 300.0,249.2" fill="none" stroke="#d8d898" stroke-width="1.1" stroke-linejoin="round"/>
</g>
<text x="302.8" y="166.8" font-size="11.8" font-weight="bold" text-anchor="start" fill="#000">D</text>
<line x1="332.6" y1="175.0" x2="332.6" y2="255.8" stroke="#333" stroke-width="1.1"/>
<line x1="332.1" y1="255.3" x2="443.5" y2="255.3" stroke="#333" stroke-width="1.3"/>
<line x1="330.40000000000003" y1="255.3" x2="332.6" y2="255.3" stroke="#333" stroke-width="0.9"/>
<text x="330" y="257.1" font-size="5.1" font-weight="bold" text-anchor="end" fill="#222">200</text>
<line x1="330.40000000000003" y1="243.93" x2="332.6" y2="243.93" stroke="#333" stroke-width="0.9"/>
<text x="330" y="245.73000000000002" font-size="5.1" font-weight="bold" text-anchor="end" fill="#222">250</text>
<line x1="330.40000000000003" y1="232.56" x2="332.6" y2="232.56" stroke="#333" stroke-width="0.9"/>
<text x="330" y="234.36" font-size="5.1" font-weight="bold" text-anchor="end" fill="#222">300</text>
<line x1="330.40000000000003" y1="221.19" x2="332.6" y2="221.19" stroke="#333" stroke-width="0.9"/>
<text x="330" y="222.99" font-size="5.1" font-weight="bold" text-anchor="end" fill="#222">350</text>
<line x1="330.40000000000003" y1="209.82000000000002" x2="332.6" y2="209.82000000000002" stroke="#333" stroke-width="0.9"/>
<text x="330" y="211.62000000000003" font-size="5.1" font-weight="bold" text-anchor="end" fill="#222">400</text>
<line x1="330.40000000000003" y1="198.45000000000002" x2="332.6" y2="198.45000000000002" stroke="#333" stroke-width="0.9"/>
<text x="330" y="200.25000000000003" font-size="5.1" font-weight="bold" text-anchor="end" fill="#222">450</text>
<line x1="330.40000000000003" y1="187.08" x2="332.6" y2="187.08" stroke="#333" stroke-width="0.9"/>
<text x="330" y="188.88000000000002" font-size="5.1" font-weight="bold" text-anchor="end" fill="#222">500</text>
<line x1="330.40000000000003" y1="175.71" x2="332.6" y2="175.71" stroke="#333" stroke-width="0.9"/>
<text x="330" y="177.51000000000002" font-size="5.1" font-weight="bold" text-anchor="end" fill="#222">550</text>
<line x1="332.6" y1="255.3" x2="332.6" y2="257.3" stroke="#333" stroke-width="0.9"/>
<text x="332.6" y="262.6" font-size="5.0" font-weight="bold" text-anchor="middle" fill="#222">0.0</text>
<line x1="359.95000000000005" y1="255.3" x2="359.95000000000005" y2="257.3" stroke="#333" stroke-width="0.9"/>
<text x="359.95000000000005" y="262.6" font-size="5.0" font-weight="bold" text-anchor="middle" fill="#222">0.5</text>
<line x1="387.3" y1="255.3" x2="387.3" y2="257.3" stroke="#333" stroke-width="0.9"/>
<text x="387.3" y="262.6" font-size="5.0" font-weight="bold" text-anchor="middle" fill="#222">1.0</text>
<line x1="414.65000000000003" y1="255.3" x2="414.65000000000003" y2="257.3" stroke="#333" stroke-width="0.9"/>
<text x="414.65000000000003" y="262.6" font-size="5.0" font-weight="bold" text-anchor="middle" fill="#222">1.5</text>
<line x1="442.0" y1="255.3" x2="442.0" y2="257.3" stroke="#333" stroke-width="0.9"/>
<text x="442.0" y="262.6" font-size="5.0" font-weight="bold" text-anchor="middle" fill="#222">2.0</text>
<text x="387.5" y="271.3" font-size="5.9" font-weight="bold" text-anchor="middle" fill="#000">Time (hours)</text>
<text x="317.6" y="214.4" font-size="6.57" font-weight="bold" text-anchor="middle" fill="#000" transform="rotate(-90 317.6 214.4)">Resistance (ohms)</text>
<g filter="url(#soft)">
<polyline points="336.8,196.8 337.6,195.7 338.4,193.9 339.2,192.0 340.0,190.1 340.8,188.6 341.6,187.3 342.4,186.3 343.2,185.2 344.0,184.8 344.8,184.6 345.6,184.7 346.4,184.6 347.2,184.6 348.0,184.6 348.8,184.7 349.6,184.7 350.4,184.6 351.2,184.6 352.0,184.6 352.8,184.5 353.6,184.5 354.4,184.5 355.2,184.5 356.0,184.4 356.8,184.4 357.6,184.4 358.4,184.4 359.2,184.4 360.0,184.5 360.8,184.6 361.6,184.5 362.4,184.4 363.2,184.4 364.0,184.4 364.8,184.4 365.6,184.3 366.4,184.3 367.2,184.2 368.0,184.1 368.8,184.1 369.6,184.1 370.4,184.0 371.2,183.9 372.0,183.7 372.8,183.6 373.6,183.7 374.4,183.7 375.2,183.7 376.0,183.8 376.8,183.8 377.6,183.8 378.4,183.7 379.2,183.7 380.0,183.5 380.8,183.5 381.6,183.4 382.4,183.3 383.2,183.1 384.0,183.0 384.8,183.0 385.6,182.8 386.4,182.7 387.2,182.5 388.0,182.3 388.8,182.3 389.6,182.1 390.4,182.0 391.2,181.8 392.0,181.8 392.8,181.7 393.6,181.5 394.4,181.4 395.2,181.3 396.0,181.4 396.8,181.3 397.6,181.2 398.4,181.1 399.2,181.2 400.0,181.1 400.8,181.1 401.6,181.0 402.4,181.1 403.2,181.1 404.0,181.0 404.8,181.0 405.6,180.8 406.4,180.9 407.2,181.0 408.0,181.2 408.8,181.0 409.6,180.9 410.4,180.8 411.2,181.0 412.0,181.0 412.8,180.9 413.6,180.8 414.4,180.8 415.2,180.8 416.0,180.7 416.8,180.8 417.6,180.8 418.4,180.9 419.2,180.9 420.0,180.8 420.8,180.7 421.6,180.9 422.4,180.9 423.2,180.9 424.0,180.9 424.8,181.0 425.6,181.2 426.4,181.1 427.2,181.1 428.0,180.9 428.8,180.9 429.6,181.2 430.4,181.3 431.2,181.3 432.0,181.3 432.8,181.4 433.6,181.6 434.4,181.7 435.2,181.9 436.0,182.1 436.8,182.2 437.6,182.4 438.4,182.5 439.2,182.6 440.0,182.7" fill="none" stroke="#86d8e0" stroke-width="1.1" stroke-linejoin="round"/>
<polyline points="336.8,197.1 337.6,195.9 338.4,194.2 339.2,192.4 340.0,190.5 340.8,188.8 341.6,187.3 342.4,186.3 343.2,185.5 344.0,185.1 344.8,185.0 345.6,184.8 346.4,184.8 347.2,184.7 348.0,185.0 348.8,185.0 349.6,185.1 350.4,185.0 351.2,185.0 352.0,185.0 352.8,185.0 353.6,184.9 354.4,184.8 355.2,184.8 356.0,184.8 356.8,184.8 357.6,184.8 358.4,184.9 359.2,184.8 360.0,184.9 360.8,184.8 361.6,184.8 362.4,184.6 363.2,184.6 364.0,184.5 364.8,184.6 365.6,184.5 366.4,184.5 367.2,184.6 368.0,184.6 368.8,184.5 369.6,184.4 370.4,184.3 371.2,184.3 372.0,184.3 372.8,184.2 373.6,184.0 374.4,183.9 375.2,183.9 376.0,184.0 376.8,184.0 377.6,184.0 378.4,184.0 379.2,184.0 380.0,184.0 380.8,184.1 381.6,184.0 382.4,183.9 383.2,184.0 384.0,183.9 384.8,183.8 385.6,183.7 386.4,183.7 387.2,183.6 388.0,183.6 388.8,183.7 389.6,183.9 390.4,183.9 391.2,183.8 392.0,183.8 392.8,184.0 393.6,184.1 394.4,184.3 395.2,184.4 396.0,184.5 396.8,184.5 397.6,184.4 398.4,184.4 399.2,184.4 400.0,184.6 400.8,184.8 401.6,184.9 402.4,184.9 403.2,185.0 404.0,184.9 404.8,184.9 405.6,184.9 406.4,185.2 407.2,185.2 408.0,185.3 408.8,185.3 409.6,185.5 410.4,185.5 411.2,185.6 412.0,185.6 412.8,185.7 413.6,185.8 414.4,185.9 415.2,185.8 416.0,185.7 416.8,185.7 417.6,185.8 418.4,185.9 419.2,185.9 420.0,185.9 420.8,185.9 421.6,186.0 422.4,186.1 423.2,186.0 424.0,186.0 424.8,186.2 425.6,186.2 426.4,186.2 427.2,185.9 428.0,186.1 428.8,186.1 429.6,186.3 430.4,186.2 431.2,186.1 432.0,186.1 432.8,186.1 433.6,186.2 434.4,186.0 435.2,186.0 436.0,186.1 436.8,186.3 437.6,186.3 438.4,186.3 439.2,186.1 440.0,186.1" fill="none" stroke="#d496c8" stroke-width="1.1" stroke-linejoin="round"/>
<polyline points="336.8,196.8 337.6,195.6 338.4,193.8 339.2,192.2 340.0,190.4 340.8,188.9 341.6,187.5 342.4,186.4 343.2,185.5 344.0,185.0 344.8,184.8 345.6,184.8 346.4,184.8 347.2,184.9 348.0,184.8 348.8,184.8 349.6,184.7 350.4,184.8 351.2,184.8 352.0,184.9 352.8,184.9 353.6,185.0 354.4,185.0 355.2,185.0 356.0,185.0 356.8,184.8 357.6,184.9 358.4,184.7 359.2,184.8 360.0,184.8 360.8,184.8 361.6,184.8 362.4,184.6 363.2,184.5 364.0,184.6 364.8,184.6 365.6,184.6 366.4,184.4 367.2,184.3 368.0,184.2 368.8,184.2 369.6,184.1 370.4,184.2 371.2,184.2 372.0,184.2 372.8,184.1 373.6,184.0 374.4,184.0 375.2,184.0 376.0,184.0 376.8,183.9 377.6,183.8 378.4,183.8 379.2,183.7 380.0,183.7 380.8,183.7 381.6,183.6" fill="none" stroke="#9ca6c6" stroke-width="1.3" stroke-linejoin="round"/>
<polyline points="336.8,203.2 337.6,202.1 338.4,200.5 339.2,199.2 340.0,198.1 340.8,197.0 341.6,196.0 342.4,195.0 343.2,194.2 344.0,194.0 344.8,193.8 345.6,193.9 346.4,194.0 347.2,194.1 348.0,194.2 348.8,194.0 349.6,194.1 350.4,194.0 351.2,194.1 352.0,194.2 352.8,194.5 353.6,194.6 354.4,194.5 355.2,194.6 356.0,194.7 356.8,194.8 357.6,194.7 358.4,194.8 359.2,194.8 360.0,195.0 360.8,195.0 361.6,195.0 362.4,194.9 363.2,194.8 364.0,194.9 364.8,194.9 365.6,195.0 366.4,194.9 367.2,195.0 368.0,194.9 368.8,195.0 369.6,195.0 370.4,194.9 371.2,194.8 372.0,194.7 372.8,194.8 373.6,194.9 374.4,194.9 375.2,195.0 376.0,194.8 376.8,194.7 377.6,194.7 378.4,194.8 379.2,194.7 380.0,194.7 380.8,194.7 381.6,194.6 382.4,194.5 383.2,194.5 384.0,194.5 384.8,194.5 385.6,194.5 386.4,194.7 387.2,194.8 388.0,194.8 388.8,194.7 389.6,194.8 390.4,194.8 391.2,194.9 392.0,195.0 392.8,195.1 393.6,195.1 394.4,195.0 395.2,195.0 396.0,195.0 396.8,195.2 397.6,195.2 398.4,195.3 399.2,195.2 400.0,195.4 400.8,195.5 401.6,195.5 402.4,195.4 403.2,195.3 404.0,195.3 404.8,195.3 405.6,195.4 406.4,195.6 407.2,195.7 408.0,195.8 408.8,195.6 409.6,195.6 410.4,195.6 411.2,195.8 412.0,195.9 412.8,196.1 413.6,196.1 414.4,196.2 415.2,196.4 416.0,196.5 416.8,196.6 417.6,196.6 418.4,196.7 419.2,196.9 420.0,196.9 420.8,197.1 421.6,197.0 422.4,197.1 423.2,197.0 424.0,197.1 424.8,197.2 425.6,197.2 426.4,197.3 427.2,197.3 428.0,197.4 428.8,197.4 429.6,197.4 430.4,197.6 431.2,197.5 432.0,197.6 432.8,197.6 433.6,197.7 434.4,197.8 435.2,197.7 436.0,197.7 436.8,197.6 437.6,197.8 438.4,197.8 439.2,197.8 440.0,197.7" fill="none" stroke="#c28c94" stroke-width="1.2" stroke-linejoin="round"/>
<polyline points="335.0,241.0 440.6,241.8" fill="none" stroke="#dcdcd6" stroke-width="0.9" stroke-linejoin="round"/>
<polyline points="335.0,249.6 440.6,250.4" fill="none" stroke="#d2d496" stroke-width="1.1" stroke-linejoin="round"/>
</g>
<line x1="460" y1="186.3" x2="472.2" y2="186.3" stroke="#c0a0a8" stroke-width="1.0"/>
<text x="474.6" y="188.20000000000002" font-size="5.45" font-weight="bold" text-anchor="start" fill="#000">EV</text>
<line x1="460" y1="192.8" x2="472.2" y2="192.8" stroke="#cdb6d6" stroke-width="1.0"/>
<text x="474.6" y="194.70000000000002" font-size="5.45" font-weight="bold" text-anchor="start" fill="#000">NTC shRNA</text>
<line x1="460" y1="199.3" x2="472.2" y2="199.3" stroke="#b4dbe2" stroke-width="1.0"/>
<text x="474.6" y="201.20000000000002" font-size="5.45" font-weight="bold" text-anchor="start" fill="#000">NTC shRNA</text>
<line x1="460" y1="206.0" x2="472.2" y2="206.0" stroke="#e0d2a8" stroke-width="1.0"/>
<text x="474.6" y="207.9" font-size="5.45" font-weight="bold"><tspan font-style="italic">BMPR-II</tspan> shRNA</text>
<line x1="460" y1="212.7" x2="472.2" y2="212.7" stroke="#e6e6dc" stroke-width="1.0"/>
<text x="474.6" y="214.6" font-size="5.45" font-weight="bold"><tspan font-style="italic">BMPR-II</tspan> shRNA</text>
<text x="12.8" y="292.1" font-size="11.8" font-weight="bold" text-anchor="start" fill="#000">E</text>
<line x1="44.1" y1="298.2" x2="44.1" y2="388.2" stroke="#000" stroke-width="1.2"/>
<line x1="43.6" y1="387.7" x2="178.5" y2="387.7" stroke="#000" stroke-width="1.3"/>
<line x1="41.6" y1="298.7" x2="44.1" y2="298.7" stroke="#000" stroke-width="1.1"/>
<text x="41.0" y="301.09999999999997" font-size="6.6" font-weight="bold" text-anchor="end" fill="#000">70</text>
<line x1="41.6" y1="320.9" x2="44.1" y2="320.9" stroke="#000" stroke-width="1.1"/>
<text x="41.0" y="323.29999999999995" font-size="6.6" font-weight="bold" text-anchor="end" fill="#000">60</text>
<line x1="41.6" y1="343.1" x2="44.1" y2="343.1" stroke="#000" stroke-width="1.1"/>
<text x="41.0" y="345.5" font-size="6.6" font-weight="bold" text-anchor="end" fill="#000">50</text>
<line x1="41.6" y1="365.4" x2="44.1" y2="365.4" stroke="#000" stroke-width="1.1"/>
<text x="41.0" y="367.79999999999995" font-size="6.6" font-weight="bold" text-anchor="end" fill="#000">40</text>
<line x1="41.6" y1="387.7" x2="44.1" y2="387.7" stroke="#000" stroke-width="1.1"/>
<text x="41.0" y="390.09999999999997" font-size="6.6" font-weight="bold" text-anchor="end" fill="#000">30</text>
<line x1="52.5" y1="387.7" x2="52.5" y2="389.9" stroke="#000" stroke-width="1.1"/>
<text x="52.5" y="396.2" font-size="6.3" font-weight="bold" text-anchor="middle" fill="#000">0.5</text>
<line x1="69.4" y1="387.7" x2="69.4" y2="389.9" stroke="#000" stroke-width="1.1"/>
<text x="69.4" y="396.2" font-size="6.3" font-weight="bold" text-anchor="middle" fill="#000">1</text>
<line x1="86.0" y1="387.7" x2="86.0" y2="389.9" stroke="#000" stroke-width="1.1"/>
<text x="86.0" y="396.2" font-size="6.3" font-weight="bold" text-anchor="middle" fill="#000">1.5</text>
<line x1="102.7" y1="387.7" x2="102.7" y2="389.9" stroke="#000" stroke-width="1.1"/>
<text x="102.7" y="396.2" font-size="6.3" font-weight="bold" text-anchor="middle" fill="#000">2</text>
<line x1="119.3" y1="387.7" x2="119.3" y2="389.9" stroke="#000" stroke-width="1.1"/>
<text x="119.3" y="396.2" font-size="6.3" font-weight="bold" text-anchor="middle" fill="#000">0.5</text>
<line x1="136.0" y1="387.7" x2="136.0" y2="389.9" stroke="#000" stroke-width="1.1"/>
<text x="136.0" y="396.2" font-size="6.3" font-weight="bold" text-anchor="middle" fill="#000">1</text>
<line x1="152.8" y1="387.7" x2="152.8" y2="389.9" stroke="#000" stroke-width="1.1"/>
<text x="152.8" y="396.2" font-size="6.3" font-weight="bold" text-anchor="middle" fill="#000">1.5</text>
<line x1="169.5" y1="387.7" x2="169.5" y2="389.9" stroke="#000" stroke-width="1.1"/>
<text x="169.5" y="396.2" font-size="6.3" font-weight="bold" text-anchor="middle" fill="#000">2</text>
<text x="7.4" y="405.1" font-size="6.5" font-weight="bold" text-anchor="start" fill="#000">SCH527123</text>
<text x="52.5" y="404.6" font-size="6.0" font-weight="bold" text-anchor="middle" fill="#000">-</text>
<text x="69.4" y="404.6" font-size="6.0" font-weight="bold" text-anchor="middle" fill="#000">-</text>
<text x="86.0" y="404.6" font-size="6.0" font-weight="bold" text-anchor="middle" fill="#000">-</text>
<text x="102.7" y="404.6" font-size="6.0" font-weight="bold" text-anchor="middle" fill="#000">-</text>
<text x="119.3" y="404.6" font-size="6.0" font-weight="bold" text-anchor="middle" fill="#000">+</text>
<text x="136.0" y="404.6" font-size="6.0" font-weight="bold" text-anchor="middle" fill="#000">+</text>
<text x="152.8" y="404.6" font-size="6.0" font-weight="bold" text-anchor="middle" fill="#000">+</text>
<text x="169.5" y="404.6" font-size="6.0" font-weight="bold" text-anchor="middle" fill="#000">+</text>
<text x="110.4" y="416.7" font-size="7.3" font-weight="bold" text-anchor="middle" fill="#000">Time (hours)</text>
<text x="24.9" y="341.8" font-size="7.3" font-weight="bold" text-anchor="middle" fill="#000" transform="rotate(-90 24.9 341.8)">Capacitance (nF)</text>
<line x1="110.8" y1="298.5" x2="110.8" y2="387.5" stroke="#dedede" stroke-width="1.0"/>
<line x1="110.8" y1="298.5" x2="110.8" y2="387.5" stroke="#4a4a4a" stroke-width="1.2" stroke-dasharray="1.1 1.0"/>
<text x="109.7" y="296.6" font-size="6.4" text-anchor="middle" fill="#555">SCH527123 addition</text>
<text x="171.9" y="301.6" font-size="7.3" font-weight="bold" text-anchor="start" fill="#000">HPAEC treatment</text>
<line x1="179.2" y1="307.7" x2="189.0" y2="307.7" stroke="#000" stroke-width="1.2"/>
<circle cx="184.2" cy="307.7" r="1.7" fill="#000"/>
<text x="194.2" y="310.2" font-size="7.1" text-anchor="start" fill="#555">EV</text>
<line x1="179.2" y1="316.0" x2="189.0" y2="316.0" stroke="#000" stroke-width="1.2"/>
<rect x="182.5" y="314.3" width="3.4" height="3.4" fill="#000"/>
<text x="194.2" y="318.5" font-size="7.1" text-anchor="start" fill="#555">NTC shRNA</text>
<line x1="179.2" y1="325.2" x2="189.0" y2="325.2" stroke="#000" stroke-width="1.2"/>
<polygon points="184.2,323.075 186.325,325.2 184.2,327.325 182.075,325.2" fill="#000"/>
<text x="194.2" y="327.7" font-size="7.1" fill="#555"><tspan font-style="italic">BMPR-II</tspan> shRNA</text>
<line x1="52.5" y1="320.9" x2="52.5" y2="335.6" stroke="#000" stroke-width="1.1"/>
<line x1="50.5" y1="320.9" x2="54.5" y2="320.9" stroke="#000" stroke-width="1.3"/>
<line x1="50.5" y1="335.6" x2="54.5" y2="335.6" stroke="#000" stroke-width="1.3"/>
<line x1="52.5" y1="340.4" x2="52.5" y2="346.9" stroke="#000" stroke-width="1.1"/>
<line x1="50.5" y1="340.4" x2="54.5" y2="340.4" stroke="#000" stroke-width="1.3"/>
<line x1="50.5" y1="346.9" x2="54.5" y2="346.9" stroke="#000" stroke-width="1.3"/>
<line x1="69.4" y1="320.9" x2="69.4" y2="335.6" stroke="#000" stroke-width="1.1"/>
<line x1="67.4" y1="320.9" x2="71.4" y2="320.9" stroke="#000" stroke-width="1.3"/>
<line x1="67.4" y1="335.6" x2="71.4" y2="335.6" stroke="#000" stroke-width="1.3"/>
<line x1="69.4" y1="340.4" x2="69.4" y2="346.9" stroke="#000" stroke-width="1.1"/>
<line x1="67.4" y1="340.4" x2="71.4" y2="340.4" stroke="#000" stroke-width="1.3"/>
<line x1="67.4" y1="346.9" x2="71.4" y2="346.9" stroke="#000" stroke-width="1.3"/>
<line x1="86.0" y1="320.9" x2="86.0" y2="335.0" stroke="#000" stroke-width="1.1"/>
<line x1="84.0" y1="320.9" x2="88.0" y2="320.9" stroke="#000" stroke-width="1.3"/>
<line x1="84.0" y1="335.0" x2="88.0" y2="335.0" stroke="#000" stroke-width="1.3"/>
<line x1="86.0" y1="332.0" x2="86.0" y2="346.9" stroke="#000" stroke-width="1.1"/>
<line x1="84.0" y1="332.0" x2="88.0" y2="332.0" stroke="#000" stroke-width="1.3"/>
<line x1="84.0" y1="346.9" x2="88.0" y2="346.9" stroke="#000" stroke-width="1.3"/>
<line x1="102.7" y1="320.9" x2="102.7" y2="335.0" stroke="#000" stroke-width="1.1"/>
<line x1="100.7" y1="320.9" x2="104.7" y2="320.9" stroke="#000" stroke-width="1.3"/>
<line x1="100.7" y1="335.0" x2="104.7" y2="335.0" stroke="#000" stroke-width="1.3"/>
<line x1="102.7" y1="341.0" x2="102.7" y2="347.0" stroke="#000" stroke-width="1.1"/>
<line x1="100.7" y1="341.0" x2="104.7" y2="341.0" stroke="#000" stroke-width="1.3"/>
<line x1="100.7" y1="347.0" x2="104.7" y2="347.0" stroke="#000" stroke-width="1.3"/>
<line x1="119.3" y1="324.4" x2="119.3" y2="343.0" stroke="#000" stroke-width="1.1"/>
<line x1="117.3" y1="324.4" x2="121.3" y2="324.4" stroke="#000" stroke-width="1.3"/>
<line x1="117.3" y1="343.0" x2="121.3" y2="343.0" stroke="#000" stroke-width="1.3"/>
<line x1="119.3" y1="340.6" x2="119.3" y2="356.2" stroke="#000" stroke-width="1.1"/>
<line x1="117.3" y1="340.6" x2="121.3" y2="340.6" stroke="#000" stroke-width="1.3"/>
<line x1="117.3" y1="356.2" x2="121.3" y2="356.2" stroke="#000" stroke-width="1.3"/>
<line x1="136.0" y1="318.5" x2="136.0" y2="338.9" stroke="#000" stroke-width="1.1"/>
<line x1="134.0" y1="318.5" x2="138.0" y2="318.5" stroke="#000" stroke-width="1.3"/>
<line x1="134.0" y1="338.9" x2="138.0" y2="338.9" stroke="#000" stroke-width="1.3"/>
<line x1="136.0" y1="336.0" x2="136.0" y2="348.8" stroke="#000" stroke-width="1.1"/>
<line x1="134.0" y1="336.0" x2="138.0" y2="336.0" stroke="#000" stroke-width="1.3"/>
<line x1="134.0" y1="348.8" x2="138.0" y2="348.8" stroke="#000" stroke-width="1.3"/>
<line x1="152.8" y1="319.4" x2="152.8" y2="335.6" stroke="#000" stroke-width="1.1"/>
<line x1="150.8" y1="319.4" x2="154.8" y2="319.4" stroke="#000" stroke-width="1.3"/>
<line x1="150.8" y1="335.6" x2="154.8" y2="335.6" stroke="#000" stroke-width="1.3"/>
<line x1="152.8" y1="323.8" x2="152.8" y2="346.9" stroke="#000" stroke-width="1.1"/>
<line x1="150.8" y1="323.8" x2="154.8" y2="323.8" stroke="#000" stroke-width="1.3"/>
<line x1="150.8" y1="346.9" x2="154.8" y2="346.9" stroke="#000" stroke-width="1.3"/>
<line x1="169.5" y1="318.7" x2="169.5" y2="340.1" stroke="#000" stroke-width="1.1"/>
<line x1="167.5" y1="318.7" x2="171.5" y2="318.7" stroke="#000" stroke-width="1.3"/>
<line x1="167.5" y1="340.1" x2="171.5" y2="340.1" stroke="#000" stroke-width="1.3"/>
<line x1="169.5" y1="337.5" x2="169.5" y2="349.4" stroke="#000" stroke-width="1.1"/>
<line x1="167.5" y1="337.5" x2="171.5" y2="337.5" stroke="#000" stroke-width="1.3"/>
<line x1="167.5" y1="349.4" x2="171.5" y2="349.4" stroke="#000" stroke-width="1.3"/>
<polyline points="52.5,328.5 69.4,328.5 86.0,327.6 102.7,327.6 119.3,333.8 136.0,328.7 152.8,327.5 169.5,329.4" fill="none" stroke="#000" stroke-width="1.3" stroke-linejoin="round"/>
<polyline points="52.5,343.5 69.4,343.5 86.0,336.0 102.7,344.0 119.3,349.8 136.0,343.1 152.8,335.0 169.5,344.4" fill="none" stroke="#000" stroke-width="1.3" stroke-linejoin="round"/>
<polyline points="52.5,343.2 69.4,343.2 86.0,344.0 102.7,344.8 119.3,344.0 136.0,340.6 152.8,341.9 169.5,341.9" fill="none" stroke="#000" stroke-width="1.3" stroke-linejoin="round"/>
<polygon points="52.5,326.25 54.75,328.5 52.5,330.75 50.25,328.5" fill="#000"/>
<circle cx="52.5" cy="343.5" r="2.0" fill="#000"/>
<rect x="50.7" y="341.4" width="3.6" height="3.6" fill="#000"/>
<polygon points="69.4,326.25 71.65,328.5 69.4,330.75 67.15,328.5" fill="#000"/>
<circle cx="69.4" cy="343.5" r="2.0" fill="#000"/>
<rect x="67.60000000000001" y="341.4" width="3.6" height="3.6" fill="#000"/>
<polygon points="86.0,325.35 88.25,327.6 86.0,329.85 83.75,327.6" fill="#000"/>
<circle cx="86.0" cy="336.0" r="2.0" fill="#000"/>
<rect x="84.2" y="342.2" width="3.6" height="3.6" fill="#000"/>
<polygon points="102.7,325.35 104.95,327.6 102.7,329.85 100.45,327.6" fill="#000"/>
<circle cx="102.7" cy="344.0" r="2.0" fill="#000"/>
<rect x="100.9" y="343.0" width="3.6" height="3.6" fill="#000"/>
<polygon points="119.3,331.55 121.55,333.8 119.3,336.05 117.05,333.8" fill="#000"/>
<circle cx="119.3" cy="349.8" r="2.0" fill="#000"/>
<rect x="117.5" y="342.2" width="3.6" height="3.6" fill="#000"/>
<polygon points="136.0,326.45 138.25,328.7 136.0,330.95 133.75,328.7" fill="#000"/>
<circle cx="136.0" cy="343.1" r="2.0" fill="#000"/>
<rect x="134.2" y="338.8" width="3.6" height="3.6" fill="#000"/>
<polygon points="152.8,325.25 155.05,327.5 152.8,329.75 150.55,327.5" fill="#000"/>
<circle cx="152.8" cy="335.0" r="2.0" fill="#000"/>
<rect x="151.0" y="340.09999999999997" width="3.6" height="3.6" fill="#000"/>
<polygon points="169.5,327.15 171.75,329.4 169.5,331.65 167.25,329.4" fill="#000"/>
<circle cx="169.5" cy="344.4" r="2.0" fill="#000"/>
<rect x="167.7" y="340.09999999999997" width="3.6" height="3.6" fill="#000"/>
<text x="265.5" y="291.4" font-size="11.8" font-weight="bold" text-anchor="start" fill="#000">F</text>
<line x1="289.3" y1="298.2" x2="289.3" y2="386.3" stroke="#000" stroke-width="1.2"/>
<line x1="288.8" y1="385.8" x2="420.8" y2="385.8" stroke="#000" stroke-width="1.3"/>
<line x1="286.8" y1="298.7" x2="289.3" y2="298.7" stroke="#000" stroke-width="1.1"/>
<text x="286.2" y="301.09999999999997" font-size="6.35" font-weight="bold" text-anchor="end" fill="#000">500</text>
<line x1="286.8" y1="316.2" x2="289.3" y2="316.2" stroke="#000" stroke-width="1.1"/>
<text x="286.2" y="318.59999999999997" font-size="6.35" font-weight="bold" text-anchor="end" fill="#000">450</text>
<line x1="286.8" y1="333.7" x2="289.3" y2="333.7" stroke="#000" stroke-width="1.1"/>
<text x="286.2" y="336.09999999999997" font-size="6.35" font-weight="bold" text-anchor="end" fill="#000">400</text>
<line x1="286.8" y1="351.2" x2="289.3" y2="351.2" stroke="#000" stroke-width="1.1"/>
<text x="286.2" y="353.59999999999997" font-size="6.35" font-weight="bold" text-anchor="end" fill="#000">350</text>
<line x1="286.8" y1="368.6" x2="289.3" y2="368.6" stroke="#000" stroke-width="1.1"/>
<text x="286.2" y="371.0" font-size="6.35" font-weight="bold" text-anchor="end" fill="#000">300</text>
<line x1="286.8" y1="385.8" x2="289.3" y2="385.8" stroke="#000" stroke-width="1.1"/>
<text x="286.2" y="388.2" font-size="6.35" font-weight="bold" text-anchor="end" fill="#000">250</text>
<line x1="297.4" y1="385.8" x2="297.4" y2="388.0" stroke="#000" stroke-width="1.1"/>
<text x="297.4" y="394.5" font-size="6.3" font-weight="bold" text-anchor="middle" fill="#000">0.5</text>
<line x1="314.0" y1="385.8" x2="314.0" y2="388.0" stroke="#000" stroke-width="1.1"/>
<text x="314.0" y="394.5" font-size="6.3" font-weight="bold" text-anchor="middle" fill="#000">1</text>
<line x1="330.5" y1="385.8" x2="330.5" y2="388.0" stroke="#000" stroke-width="1.1"/>
<text x="330.5" y="394.5" font-size="6.3" font-weight="bold" text-anchor="middle" fill="#000">1.5</text>
<line x1="347.1" y1="385.8" x2="347.1" y2="388.0" stroke="#000" stroke-width="1.1"/>
<text x="347.1" y="394.5" font-size="6.3" font-weight="bold" text-anchor="middle" fill="#000">2</text>
<line x1="363.1" y1="385.8" x2="363.1" y2="388.0" stroke="#000" stroke-width="1.1"/>
<text x="363.1" y="394.5" font-size="6.3" font-weight="bold" text-anchor="middle" fill="#000">0.5</text>
<line x1="379.6" y1="385.8" x2="379.6" y2="388.0" stroke="#000" stroke-width="1.1"/>
<text x="379.6" y="394.5" font-size="6.3" font-weight="bold" text-anchor="middle" fill="#000">1</text>
<line x1="396.1" y1="385.8" x2="396.1" y2="388.0" stroke="#000" stroke-width="1.1"/>
<text x="396.1" y="394.5" font-size="6.3" font-weight="bold" text-anchor="middle" fill="#000">1.5</text>
<line x1="412.6" y1="385.8" x2="412.6" y2="388.0" stroke="#000" stroke-width="1.1"/>
<text x="412.6" y="394.5" font-size="6.3" font-weight="bold" text-anchor="middle" fill="#000">2</text>
<text x="253.2" y="403.7" font-size="6.5" font-weight="bold" text-anchor="start" fill="#000">SCH527123</text>
<text x="297.4" y="403.6" font-size="6.3" font-weight="bold" text-anchor="middle" fill="#000">-</text>
<text x="314.0" y="403.6" font-size="6.3" font-weight="bold" text-anchor="middle" fill="#000">-</text>
<text x="330.5" y="403.6" font-size="6.3" font-weight="bold" text-anchor="middle" fill="#000">-</text>
<text x="347.1" y="403.6" font-size="6.3" font-weight="bold" text-anchor="middle" fill="#000">-</text>
<text x="363.1" y="403.6" font-size="6.3" font-weight="bold" text-anchor="middle" fill="#000">+</text>
<text x="379.6" y="403.6" font-size="6.3" font-weight="bold" text-anchor="middle" fill="#000">+</text>
<text x="396.1" y="403.6" font-size="6.3" font-weight="bold" text-anchor="middle" fill="#000">+</text>
<text x="412.6" y="403.6" font-size="6.3" font-weight="bold" text-anchor="middle" fill="#000">+</text>
<text x="354.6" y="413.6" font-size="7.3" font-weight="bold" text-anchor="middle" fill="#000">Time (hours)</text>
<text x="270.6" y="341.4" font-size="7.15" font-weight="bold" text-anchor="middle" fill="#000" transform="rotate(-90 270.6 341.4)">Resistance (ohms)</text>
<line x1="355.0" y1="298.5" x2="355.0" y2="385.5" stroke="#dedede" stroke-width="1.0"/>
<line x1="355.0" y1="298.5" x2="355.0" y2="385.5" stroke="#4a4a4a" stroke-width="1.2" stroke-dasharray="1.1 1.0"/>
<text x="353.5" y="296.6" font-size="6.4" text-anchor="middle" fill="#555">SCH527123 addition</text>
<text x="418.5" y="300.90000000000003" font-size="7.3" font-weight="bold" text-anchor="start" fill="#000">HPAEC treatment</text>
<line x1="419.4" y1="306.3" x2="429.2" y2="306.3" stroke="#000" stroke-width="1.2"/>
<circle cx="424.4" cy="306.3" r="1.7" fill="#000"/>
<text x="434.4" y="308.8" font-size="7.1" text-anchor="start" fill="#555">EV</text>
<line x1="419.4" y1="315.0" x2="429.2" y2="315.0" stroke="#000" stroke-width="1.2"/>
<rect x="422.7" y="313.3" width="3.4" height="3.4" fill="#000"/>
<text x="434.4" y="317.5" font-size="7.1" text-anchor="start" fill="#555">NTC shRNA</text>
<line x1="419.4" y1="323.3" x2="429.2" y2="323.3" stroke="#000" stroke-width="1.2"/>
<polygon points="424.4,321.175 426.525,323.3 424.4,325.425 422.275,323.3" fill="#000"/>
<text x="434.4" y="325.8" font-size="7.1" fill="#555"><tspan font-style="italic">BMPR-II</tspan> shRNA</text>
<line x1="297.4" y1="334.1" x2="297.4" y2="337.5" stroke="#000" stroke-width="1.1"/>
<line x1="295.4" y1="334.1" x2="299.4" y2="334.1" stroke="#000" stroke-width="1.3"/>
<line x1="297.4" y1="371.7" x2="297.4" y2="380.8" stroke="#000" stroke-width="1.1"/>
<line x1="295.4" y1="371.7" x2="299.4" y2="371.7" stroke="#000" stroke-width="1.3"/>
<line x1="314.0" y1="332.8" x2="314.0" y2="336.4" stroke="#000" stroke-width="1.1"/>
<line x1="312.0" y1="332.8" x2="316.0" y2="332.8" stroke="#000" stroke-width="1.3"/>
<line x1="314.0" y1="370.4" x2="314.0" y2="375.2" stroke="#000" stroke-width="1.1"/>
<line x1="312.0" y1="370.4" x2="316.0" y2="370.4" stroke="#000" stroke-width="1.3"/>
<line x1="330.5" y1="329.7" x2="330.5" y2="333.5" stroke="#000" stroke-width="1.1"/>
<line x1="328.5" y1="329.7" x2="332.5" y2="329.7" stroke="#000" stroke-width="1.3"/>
<line x1="330.5" y1="369.2" x2="330.5" y2="375.2" stroke="#000" stroke-width="1.1"/>
<line x1="328.5" y1="369.2" x2="332.5" y2="369.2" stroke="#000" stroke-width="1.3"/>
<line x1="347.1" y1="335.9" x2="347.1" y2="348.9" stroke="#000" stroke-width="1.1"/>
<line x1="345.1" y1="335.9" x2="349.1" y2="335.9" stroke="#000" stroke-width="1.3"/>
<line x1="347.1" y1="371.3" x2="347.1" y2="376.0" stroke="#000" stroke-width="1.1"/>
<line x1="345.1" y1="371.3" x2="349.1" y2="371.3" stroke="#000" stroke-width="1.3"/>
<line x1="363.1" y1="322.5" x2="363.1" y2="336.8" stroke="#000" stroke-width="1.1"/>
<line x1="361.1" y1="322.5" x2="365.1" y2="322.5" stroke="#000" stroke-width="1.3"/>
<line x1="363.1" y1="351.4" x2="363.1" y2="363.6" stroke="#000" stroke-width="1.1"/>
<line x1="361.1" y1="351.4" x2="365.1" y2="351.4" stroke="#000" stroke-width="1.3"/>
<line x1="379.6" y1="322.0" x2="379.6" y2="337.5" stroke="#000" stroke-width="1.1"/>
<line x1="377.6" y1="322.0" x2="381.6" y2="322.0" stroke="#000" stroke-width="1.3"/>
<line x1="379.6" y1="367.5" x2="379.6" y2="374.5" stroke="#000" stroke-width="1.1"/>
<line x1="377.6" y1="367.5" x2="381.6" y2="367.5" stroke="#000" stroke-width="1.3"/>
<line x1="396.1" y1="313.9" x2="396.1" y2="323.1" stroke="#000" stroke-width="1.1"/>
<line x1="394.1" y1="313.9" x2="398.1" y2="313.9" stroke="#000" stroke-width="1.3"/>
<line x1="396.1" y1="346.0" x2="396.1" y2="355.2" stroke="#000" stroke-width="1.1"/>
<line x1="394.1" y1="346.0" x2="398.1" y2="346.0" stroke="#000" stroke-width="1.3"/>
<line x1="396.1" y1="367.5" x2="396.1" y2="372.8" stroke="#000" stroke-width="1.1"/>
<line x1="394.1" y1="367.5" x2="398.1" y2="367.5" stroke="#000" stroke-width="1.3"/>
<line x1="412.6" y1="315.0" x2="412.6" y2="332.1" stroke="#000" stroke-width="1.1"/>
<line x1="410.6" y1="315.0" x2="414.6" y2="315.0" stroke="#000" stroke-width="1.3"/>
<line x1="412.6" y1="367.5" x2="412.6" y2="375.4" stroke="#000" stroke-width="1.1"/>
<line x1="410.6" y1="367.5" x2="414.6" y2="367.5" stroke="#000" stroke-width="1.3"/>
<polyline points="297.4,339.9 314.0,339.5 330.5,339.1 347.1,338.8 363.1,336.8 379.6,348.8 396.1,323.1 412.6,348.8" fill="none" stroke="#000" stroke-width="1.3" stroke-linejoin="round"/>
<polyline points="297.4,337.5 314.0,336.4 330.5,333.5 347.1,348.9 363.1,336.8 379.6,337.5 396.1,355.2 412.6,332.1" fill="none" stroke="#000" stroke-width="1.3" stroke-linejoin="round"/>
<polyline points="297.4,380.8 314.0,375.2 330.5,375.2 347.1,376.0 363.1,363.6 379.6,374.5 396.1,372.8 412.6,375.4" fill="none" stroke="#000" stroke-width="1.3" stroke-linejoin="round"/>
<circle cx="297.4" cy="339.9" r="2.0" fill="#000"/>
<rect x="295.59999999999997" y="335.7" width="3.6" height="3.6" fill="#000"/>
<polygon points="297.4,378.55 299.65,380.8 297.4,383.05 295.15,380.8" fill="#000"/>
<circle cx="314.0" cy="339.5" r="2.0" fill="#000"/>
<rect x="312.2" y="334.59999999999997" width="3.6" height="3.6" fill="#000"/>
<polygon points="314.0,372.95 316.25,375.2 314.0,377.45 311.75,375.2" fill="#000"/>
<circle cx="330.5" cy="339.1" r="2.0" fill="#000"/>
<rect x="328.7" y="331.7" width="3.6" height="3.6" fill="#000"/>
<polygon points="330.5,372.95 332.75,375.2 330.5,377.45 328.25,375.2" fill="#000"/>
<circle cx="347.1" cy="338.8" r="2.0" fill="#000"/>
<rect x="345.3" y="347.09999999999997" width="3.6" height="3.6" fill="#000"/>
<polygon points="347.1,373.75 349.35,376.0 347.1,378.25 344.85,376.0" fill="#000"/>
<circle cx="363.1" cy="336.8" r="2.0" fill="#000"/>
<rect x="361.3" y="335.0" width="3.6" height="3.6" fill="#000"/>
<polygon points="363.1,361.35 365.35,363.6 363.1,365.85 360.85,363.6" fill="#000"/>
<circle cx="379.6" cy="348.8" r="2.0" fill="#000"/>
<rect x="377.8" y="335.7" width="3.6" height="3.6" fill="#000"/>
<polygon points="379.6,372.25 381.85,374.5 379.6,376.75 377.35,374.5" fill="#000"/>
<circle cx="396.1" cy="323.1" r="2.0" fill="#000"/>
<rect x="394.3" y="353.4" width="3.6" height="3.6" fill="#000"/>
<polygon points="396.1,370.55 398.35,372.8 396.1,375.05 393.85,372.8" fill="#000"/>
<circle cx="412.6" cy="348.8" r="2.0" fill="#000"/>
<rect x="410.8" y="330.3" width="3.6" height="3.6" fill="#000"/>
<polygon points="412.6,373.15 414.85,375.4 412.6,377.65 410.35,375.4" fill="#000"/>
<text x="297.4" y="368.8" font-size="5.5" font-weight="bold" text-anchor="middle" fill="#333">**</text>
<text x="314.0" y="368.8" font-size="5.5" font-weight="bold" text-anchor="middle" fill="#333">*</text>
<text x="330.5" y="368.8" font-size="5.5" font-weight="bold" text-anchor="middle" fill="#333">*</text>
<text x="347.1" y="368.8" font-size="5.5" font-weight="bold" text-anchor="middle" fill="#333">**</text>
<text x="396.1" y="364.6" font-size="5.5" font-weight="bold" text-anchor="middle" fill="#333">***</text>
</svg>
</body></html>
